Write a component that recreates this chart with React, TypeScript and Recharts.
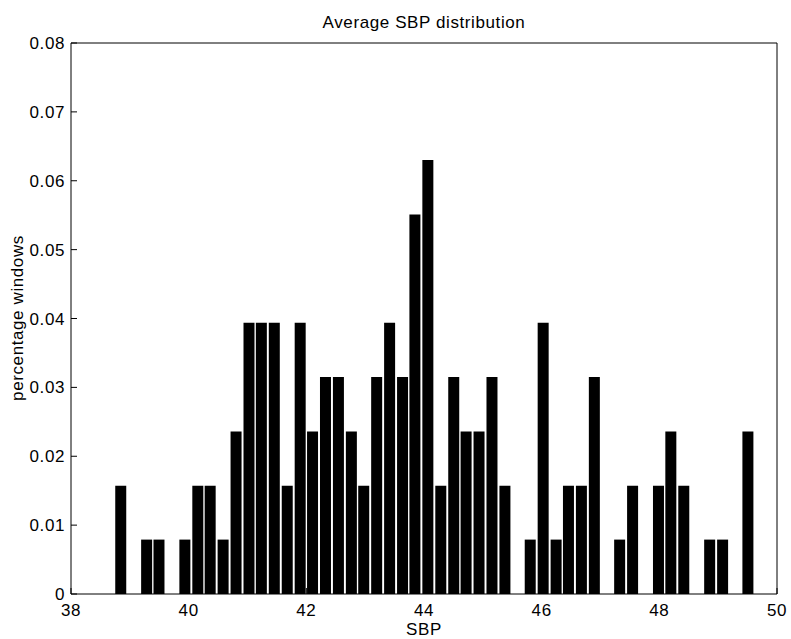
import React from "react";
import { BarChart, Bar, XAxis, YAxis } from "recharts";

// bin centres (SBP) of the non-empty bins
const sbpBins = [
  38.84, 39.28, 39.49, 39.93, 40.15, 40.36, 40.58, 40.8, 41.02, 41.23, 41.45,
  41.67, 41.89, 42.1, 42.32, 42.54, 42.76, 42.97, 43.19, 43.41, 43.63, 43.84,
  44.06, 44.28, 44.5, 44.71, 44.93, 45.15, 45.37, 45.8, 46.02, 46.24, 46.45,
  46.67, 46.89, 47.32, 47.54, 47.98, 48.19, 48.41, 48.85, 49.07, 49.5,
];

// fraction of windows in each bin
const windowShare = [
  0.0157, 0.0079, 0.0079, 0.0079, 0.0157, 0.0157, 0.0079, 0.0236, 0.0394,
  0.0394, 0.0394, 0.0157, 0.0394, 0.0236, 0.0315, 0.0315, 0.0236, 0.0157,
  0.0315, 0.0394, 0.0315, 0.0551, 0.063, 0.0157, 0.0315, 0.0236, 0.0236,
  0.0315, 0.0157, 0.0079, 0.0394, 0.0079, 0.0157, 0.0157, 0.0315, 0.0079,
  0.0157, 0.0157, 0.0236, 0.0157, 0.0079, 0.0079, 0.0236,
];

const xTicks = [38, 40, 42, 44, 46, 48, 50];
const yTicks = [0, 0.01, 0.02, 0.03, 0.04, 0.05, 0.06, 0.07, 0.08];

const data = sbpBins.map((sbp, i) => ({ sbp, share: windowShare[i] }));

const FONT = "'Liberation Sans', Arial, Helvetica, sans-serif";
const tickStyle = { fontSize: 17, fill: "#000", fontFamily: FONT, letterSpacing: 0.6 };

const App: React.FC = () => {
  return (
    <div style={{ position: "absolute", left: 0, top: 0, width: 791, height: 639, background: "#fff" }}>
      <BarChart
        width={791}
        height={639}
        data={data}
        margin={{ top: 42, right: 13, bottom: 5, left: 11 }}
      >
        <XAxis
          dataKey="sbp"
          type="number"
          domain={[38, 50]}
          ticks={xTicks}
          allowDataOverflow
          height={40}
          stroke="#000"
          tickSize={-6}
          tickMargin={16}
          tick={tickStyle}
        />
        {/* top/right axes only close the box with inward ticks */}
        <XAxis
          xAxisId="top"
          dataKey="sbp"
          orientation="top"
          type="number"
          domain={[38, 50]}
          ticks={xTicks}
          allowDataOverflow
          height={1}
          stroke="#000"
          tickSize={-6}
          tick={false}
        />
        <YAxis
          type="number"
          domain={[0, 0.08]}
          ticks={yTicks}
          width={60}
          stroke="#000"
          tickSize={-6}
          tickMargin={12}
          tick={tickStyle}
          tickFormatter={(v: number) => (v === 0 ? "0" : v.toFixed(2))}
        />
        <YAxis
          yAxisId="right"
          orientation="right"
          type="number"
          domain={[0, 0.08]}
          ticks={yTicks}
          allowDataOverflow
          width={1}
          stroke="#000"
          tickSize={-6}
          tick={false}
        />
        <Bar dataKey="share" fill="#000" barSize={11} isAnimationActive={false} />
      </BarChart>
      <svg
        width={791}
        height={639}
        style={{ position: "absolute", left: 0, top: 0, pointerEvents: "none" }}
        fontFamily={FONT}
        fontSize={17}
        fill="#000"
      >
        <text x={424} y={28} textAnchor="middle" letterSpacing={0.6}>
          Average SBP distribution
        </text>
        <text x={424} y={635} textAnchor="middle" letterSpacing={0.6}>
          SBP
        </text>
        <text x={23} y={318} textAnchor="middle" transform="rotate(-90 23 318)" letterSpacing={0.6}>
          percentage windows
        </text>
      </svg>
    </div>
  );
};

export default App;
